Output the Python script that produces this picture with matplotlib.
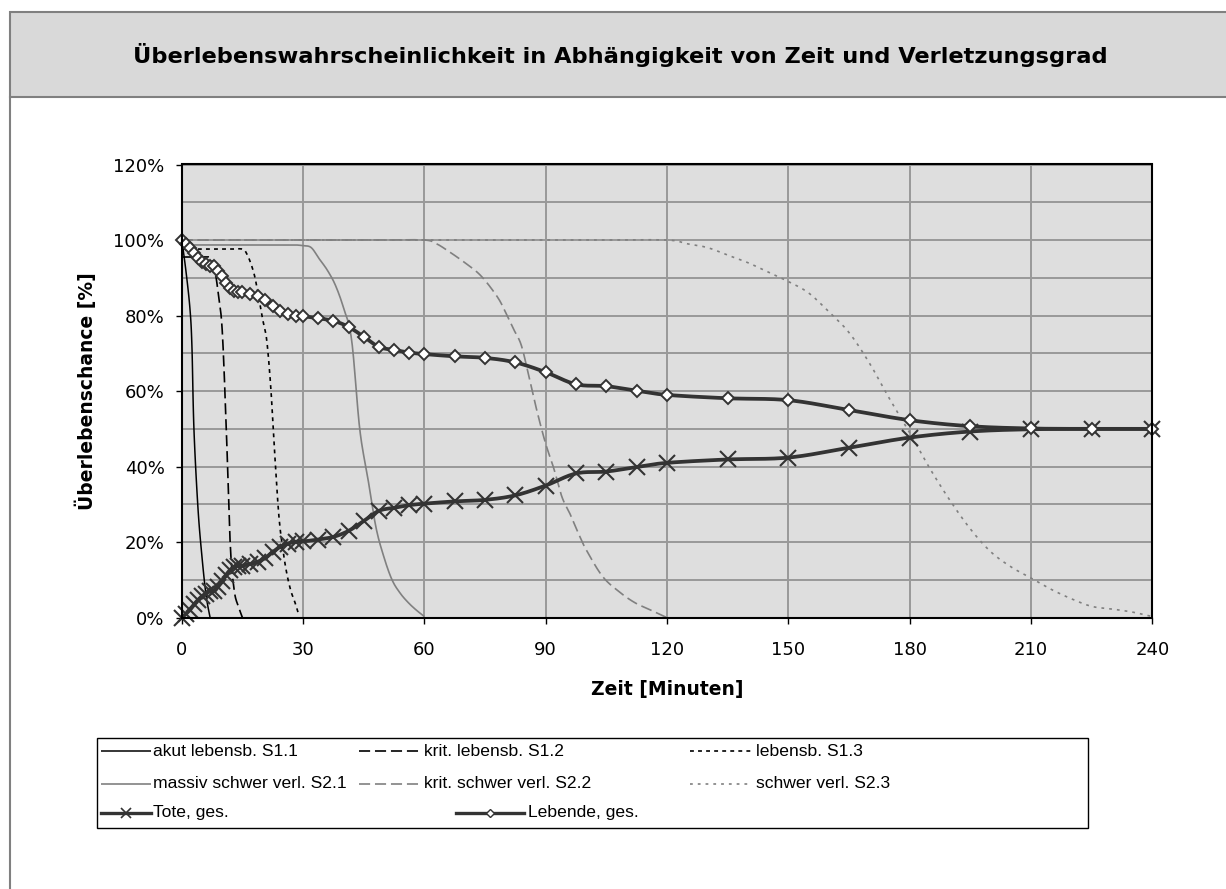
import numpy as np
import matplotlib
matplotlib.use("Agg")
import matplotlib.pyplot as plt
from matplotlib.patches import Rectangle
from matplotlib.lines import Line2D
from matplotlib.ticker import MultipleLocator, FuncFormatter

plt.rcParams['font.family'] = ['DejaVu Sans']
plt.rcParams['lines.scale_dashes'] = False

W, H = 1226, 889

# ---------------- data ----------------
# single-injury-class survival curves (time in minutes, survival in %)
s11_t = [0, 1, 2, 2.5, 3, 4, 5, 6, 7]
s11_v = [100, 92, 82, 72, 50, 29, 16, 6, 0]

s12_t = [0, 2, 4, 6, 7, 8, 9, 10, 11, 12, 13, 14, 15]
s12_v = [95.5, 95.5, 95.5, 95.5, 95.3, 93, 86, 76, 50, 19, 7, 3, 0]

s13_t = [0, 4, 8, 12, 15, 16, 17, 18, 19, 20, 21, 22, 23, 24, 25, 26, 27, 28, 29]
s13_v = [97.6, 97.6, 97.6, 97.6, 97.6, 96.5, 94, 90.5, 85, 79, 73.5, 61, 43, 27,
         18, 11.5, 7, 4, 0.5]

s21_t = [0, 5, 10, 15, 20, 25, 28, 30, 32, 34, 36, 38, 40, 42, 44, 46, 48, 50,
         52, 54, 56, 58, 60]
s21_v = [98.7, 98.7, 98.7, 98.7, 98.7, 98.7, 98.7, 98.5, 98, 95, 92, 88, 82,
         73.5, 50, 37, 24, 16, 10, 6.5, 4, 2, 0.3]

s22_t = [0, 10, 20, 30, 40, 50, 60, 63, 66, 70, 74, 78, 80, 82, 84, 86, 88, 90,
         92, 94, 96, 98, 100, 104, 108, 112, 116, 120]
s22_v = [100, 100, 100, 100, 100, 100, 100, 99, 97, 94, 90.5, 85, 81, 76.5, 72,
         63, 54, 46, 39.5, 32, 27.5, 22.5, 18, 11, 7, 4, 2, 0]

s23_t = [0, 15, 30, 45, 60, 75, 90, 105, 120, 125, 130, 135, 140, 145, 150, 155,
         160, 165, 170, 175, 180, 185, 190, 195, 200, 205, 210, 215, 220, 225,
         230, 235, 240]
s23_v = [100, 100, 100, 100, 100, 100, 100, 100, 100, 99, 98, 96, 94, 91.5, 89,
         86, 81, 75.5, 67.5, 58, 49, 39.5, 31, 23.5, 17.5, 13.5, 10.5, 7.5, 5,
         3, 2.3, 1.5, 0.3]

# totals (marker series)
tot_t = [0, 1, 2, 3, 4, 5, 6, 7, 8, 9, 10, 11, 12, 13, 14, 15,
         16.875, 18.75, 20.625, 22.5, 24.375, 26.25, 28.125, 30,
         33.75, 37.5, 41.25, 45, 48.75, 52.5, 56.25, 60,
         67.5, 75, 82.5, 90, 97.5, 105, 112.5, 120,
         135, 150, 165, 180, 195, 210, 225, 240]
tote_v = [0, 1, 2, 3.5, 4.7, 5.7, 6.4, 7, 7, 8.2, 9.6, 11.4, 12.7, 13.5, 13.8, 13.8,
          14.2, 14.8, 15.8, 17.4, 18.8, 19.6, 20.1, 20.2,
          20.7, 21.4, 23.0, 25.6, 28.3, 29.1, 29.8, 30.2,
          30.8, 31.2, 32.4, 35.0, 38.2, 38.7, 39.9, 41.0,
          41.9, 42.4, 45.0, 47.7, 49.3, 49.9, 50.0, 50.0]
lebende_v = [100, 99, 98, 96.5, 95.3, 94.3, 93.6, 93, 93, 91.8, 90.4, 88.6, 87.3, 86.5, 86.2, 86.2,
             85.8, 85.2, 84.2, 82.6, 81.2, 80.4, 79.9, 79.8,
             79.3, 78.6, 77.0, 74.4, 71.7, 70.9, 70.2, 69.8,
             69.2, 68.8, 67.6, 65.0, 61.8, 61.3, 60.1, 59.0,
             58.1, 57.6, 55.0, 52.3, 50.7, 50.1, 50.0, 50.0]

labels = ["akut lebensb. S1.1", "krit. lebensb. S1.2", "lebensb. S1.3",
          "massiv schwer verl. S2.1", "krit. schwer verl. S2.2", "schwer verl. S2.3",
          "Tote, ges.", "Lebende, ges."]
x_ticks = [0, 30, 60, 90, 120, 150, 180, 210, 240]
y_ticks = [0, 20, 40, 60, 80, 100, 120]

title = "Überlebenswahrscheinlichkeit in Abhängigkeit von Zeit und Verletzungsgrad"
xlabel = "Zeit [Minuten]"
ylabel = "Überlebenschance [%]"


def smooth(xs, ys, n=14):
    """Bezier smoothing of a polyline (spreadsheet-style smoothed line)."""
    p = np.column_stack([xs, ys]).astype(float)
    out = [p[0]]
    s = np.linspace(0, 1, n)[1:, None]
    for i in range(len(p) - 1):
        p0 = p[i - 1] if i > 0 else p[i]
        p1, p2 = p[i], p[i + 1]
        p3 = p[i + 2] if i + 2 < len(p) else p[i + 1]
        c1 = p1 + (p2 - p0) / 6.0
        c2 = p2 - (p3 - p1) / 6.0
        seg = ((1 - s) ** 3) * p1 + 3 * ((1 - s) ** 2) * s * c1 \
            + 3 * (1 - s) * s ** 2 * c2 + s ** 3 * p2
        out.extend(seg)
    out = np.array(out)
    return out[:, 0], out[:, 1]


def fx(x):
    return x / W


def fy(y):
    return 1 - y / H


fig = plt.figure(figsize=(W / 100, H / 100), dpi=100)
fig.patch.set_facecolor('white')

# outer chart frame with shaded title band
fig.add_artist(Rectangle((fx(10), fy(97)), fx(1300), fy(12) - fy(97),
                         transform=fig.transFigure, facecolor='#d9d9d9',
                         edgecolor='#808080', lw=1.5, zorder=0))
fig.add_artist(Line2D([fx(10), fx(10)], [fy(97), fy(900)], transform=fig.transFigure,
                      color='#808080', lw=1.5, zorder=0))
fig.text(fx(620), fy(55), title, ha='center', va='center', fontsize=16.2,
         fontweight='bold', color='black')

# plot area
L, R, T, B = 181.8, 1152.3, 164.5, 617.7
ax = fig.add_axes([fx(L), fy(B), fx(R) - fx(L), fy(T) - fy(B)])
ax.set_facecolor('#dedede')
ax.set_xlim(0, 240)
ax.set_ylim(0, 120)
ax.set_xticks(x_ticks)
ax.set_yticks(y_ticks)
ax.yaxis.set_minor_locator(MultipleLocator(10))
ax.yaxis.set_major_formatter(FuncFormatter(lambda v, p: f"{int(round(v))}%"))
ax.tick_params(which='major', direction='out', length=4, width=1, color='black',
               labelsize=13)
ax.tick_params(axis='x', pad=12.5)
ax.tick_params(axis='y', pad=8.5)
ax.tick_params(which='minor', length=0)
ax.grid(True, axis='x', which='major', color='#999999', lw=1.4)
ax.grid(True, axis='y', which='both', color='#999999', lw=1.4)
ax.set_axisbelow(True)
for sp in ax.spines.values():
    sp.set_color('black')
    sp.set_linewidth(1.5)

long_dash = (0, (8, 3.5))
short_dash = (0, (2.8, 3.0))
dot_dash = (0, (2.0, 3.6))

series = [
    (s11_t, s11_v, dict(color='black', lw=1.1, ls='-')),
    (s12_t, s12_v, dict(color='black', lw=1.2, ls=long_dash)),
    (s13_t, s13_v, dict(color='black', lw=1.2, ls=short_dash)),
    (s21_t, s21_v, dict(color='#808080', lw=1.2, ls='-')),
    (s22_t, s22_v, dict(color='#808080', lw=1.2, ls=long_dash)),
    (s23_t, s23_v, dict(color='#808080', lw=1.2, ls=dot_dash)),
]
for t, v, st in series:
    sx, sy = smooth(t, v)
    ax.plot(sx, sy, **st, solid_capstyle='butt', dash_capstyle='butt')

dark = '#333333'
sx, sy = smooth(tot_t, tote_v)
ax.plot(sx, sy, color=dark, lw=2.7, solid_capstyle='round', clip_on=False)
ax.plot(tot_t, tote_v, ls='none', marker='x', ms=12, mew=1.5, color=dark,
        clip_on=False)
sx, sy = smooth(tot_t, lebende_v)
ax.plot(sx, sy, color=dark, lw=2.7, solid_capstyle='round', clip_on=False)
ax.plot(tot_t, lebende_v, ls='none', marker='D', ms=6.3, mew=1.4, mfc='white',
        mec=dark, clip_on=False)

ax.set_xlabel(xlabel, fontsize=13.5, fontweight='bold')
ax.xaxis.set_label_coords(0.5, (B - 690) / (B - T))
ax.xaxis.label.set_va('center')
ax.set_ylabel(ylabel, fontsize=13.5, fontweight='bold')
ax.yaxis.set_label_coords((86 - L) / (R - L), 0.5)
ax.yaxis.label.set_va('center')

# legend box (pixel coordinates inside its own panel)
LL, LR, LT, LB = 97, 1088, 738, 828
lax = fig.add_axes([fx(LL), fy(LB), fx(LR) - fx(LL), fy(LT) - fy(LB)])
lax.set_xlim(LL, LR)
lax.set_ylim(LB, LT)
lax.axis('off')
lax.add_patch(Rectangle((LL, LT), LR - LL, LB - LT, fill=False, ec='black',
                        lw=1.0, clip_on=False))

rows = [751, 784, 813]
entries = [
    (0, 101, 151, 153), (1, 359, 420, 424), (2, 690, 751, 756),
    (3, 101, 151, 153), (4, 359, 420, 424), (5, 690, 751, 756),
    (6, 101, 151, 153), (7, 456, 524, 528),
]
for k, (idx, x0, x1, xt) in enumerate(entries):
    yy = rows[k // 3] if k < 6 else rows[2]
    if idx < 6:
        st = series[idx][2]
        lax.plot([x0, x1], [yy, yy], color=st['color'], lw=st['lw'], ls=st['ls'],
                 solid_capstyle='butt', dash_capstyle='butt')
    else:
        lax.plot([x0, x1], [yy, yy], color=dark, lw=2.4)
        xm = (x0 + x1) / 2
        if idx == 6:
            lax.plot([xm], [yy], marker='x', ms=7, mew=1.2, color=dark)
        else:
            lax.plot([xm], [yy], marker='D', ms=4, mew=1.0, mfc='white', mec=dark)
    lax.text(xt, yy, labels[idx], ha='left', va='center', fontsize=12.6,
             family=['Liberation Sans', 'DejaVu Sans'], color='black')

fig.savefig("out.png", dpi=100, facecolor='white')
